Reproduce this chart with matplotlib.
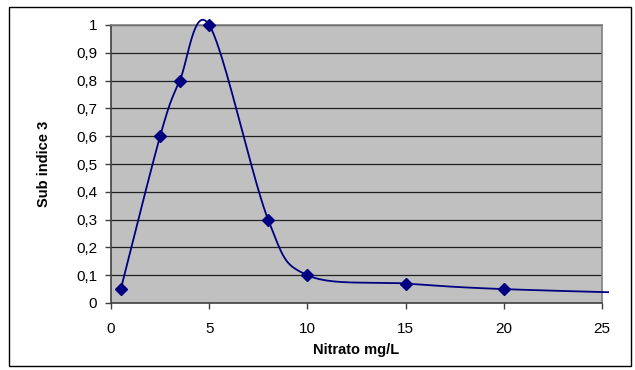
import numpy as np
import matplotlib
matplotlib.use("Agg")
import matplotlib.pyplot as plt
from matplotlib.patches import Rectangle

# Data
nitrato = [0.5, 2.5, 3.5, 5, 8, 10, 15, 20, 30]
sub_indice = [0.05, 0.6, 0.8, 1.0, 0.3, 0.1, 0.07, 0.05, 0.03]
x_ticks = [0, 5, 10, 15, 20, 25]
y_ticks = [0, 0.1, 0.2, 0.3, 0.4, 0.5, 0.6, 0.7, 0.8, 0.9, 1.0]
y_labels = ["0", "0,1", "0,2", "0,3", "0,4", "0,5", "0,6", "0,7", "0,8", "0,9", "1"]
marker_n = 8  # points visible inside the axis

plt.rcParams['font.family'] = ['Liberation Sans', 'DejaVu Sans']

def smooth(xs, ys, n=60):
    # Excel-like smoothed line: cubic Bezier with Catmull-Rom control points
    P = np.column_stack([xs, ys]).astype(float)
    P = np.vstack([P[0], P, P[-1]])
    out = []
    for i in range(1, len(P) - 2):
        p0, p1, p2, p3 = P[i - 1], P[i], P[i + 1], P[i + 2]
        c1 = p1 + (p2 - p0) / 6.0
        c2 = p2 - (p3 - p1) / 6.0
        t = np.linspace(0, 1, n)[:, None]
        seg = ((1 - t) ** 3) * p1 + 3 * ((1 - t) ** 2) * t * c1 + 3 * (1 - t) * t ** 2 * c2 + t ** 3 * p2
        out.append(seg)
    s = np.vstack(out)
    return s[:, 0], s[:, 1]

fig = plt.figure(figsize=(6.35, 3.70), dpi=100)
fig.patches.append(Rectangle((9 / 635, 1 - 366 / 370), 622 / 635, 359 / 370,
                             transform=fig.transFigure, fill=False,
                             edgecolor='black', linewidth=1.0))

ax = fig.add_axes([111 / 635, 1 - 303 / 370, 491 / 635, 278 / 370])
ax.set_facecolor('#C0C0C0')

sx, sy = smooth(nitrato, sub_indice)
line, = ax.plot(sx, sy, color='#000080', linewidth=1.3, zorder=3)
ax.plot(nitrato[:marker_n], sub_indice[:marker_n], linestyle='none', marker='D',
        markersize=6, color='#000080', zorder=4, clip_on=False)

ax.set_xlim(0, 25)
ax.set_ylim(0, 1)
clip = Rectangle((0, -0.05), 25.35, 1.1, transform=ax.transData)
line.set_clip_path(clip)

ax.set_xticks(x_ticks)
ax.set_xticklabels([str(v) for v in x_ticks])
ax.set_yticks(y_ticks)
ax.set_yticklabels(y_labels)
ax.tick_params(axis='both', labelsize=11, length=4, width=1, color='#404040', direction='out')
ax.tick_params(axis='x', pad=10)
ax.tick_params(axis='y', pad=6)
ax.yaxis.grid(True, color='#202020', linewidth=0.9)
ax.set_axisbelow(True)
for s in ['top', 'right']:
    ax.spines[s].set_color('#808080')
    ax.spines[s].set_linewidth(1.2)
for s in ['left', 'bottom']:
    ax.spines[s].set_color('#404040')
    ax.spines[s].set_linewidth(1.2)

ax.set_xlabel('Nitrato mg/L', fontsize=10.5, fontweight='bold', labelpad=5)
ax.set_ylabel('Sub indice 3', fontsize=10.5, fontweight='bold', labelpad=18)

fig.savefig('out.png', dpi=100)
